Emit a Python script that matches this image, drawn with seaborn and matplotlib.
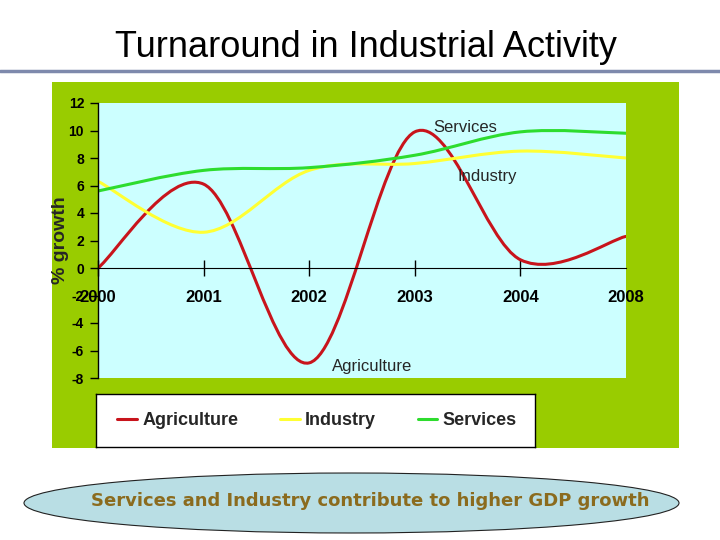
#!/usr/bin/env python3
"""Turnaround in Industrial Activity: sector growth, smoothed lines"""

import matplotlib
matplotlib.use('agg')
import matplotlib.pyplot as plt
from matplotlib.lines import Line2D
from matplotlib.patches import Rectangle, Ellipse, PathPatch
from matplotlib.path import Path

import seaborn as sns

years = ['2000', '2001', '2002', '2003', '2004', '2008']
agriculture = [0.0, 6.1, -6.9, 9.9, 0.6, 2.3]
industry = [6.3, 2.6, 7.1, 7.6, 8.5, 8.0]
services = [5.6, 7.1, 7.3, 8.2, 9.9, 9.8]
sectors = ['Agriculture', 'Industry', 'Services']
colors = {'Agriculture': '#C8141C', 'Industry': '#FFFF33', 'Services': '#2EDC2E'}
yticks = [12, 10, 8, 6, 4, 2, 0, -2, -4, -6, -8]

W, H = 720.0, 540.0


def _fig_box(x0, y0, x1, y1):
    """pixel box (top-left origin) -> figure fraction [l, b, w, h]"""
    return [x0 / W, 1 - y1 / H, (x1 - x0) / W, (y1 - y0) / H]


def _smooth_path(xs, ys):
    """Bezier path through the points, like an Excel smoothed line"""
    pts = list(zip(xs, ys))
    ext = [pts[0]] + pts + [pts[-1]]
    verts = [pts[0]]
    codes = [Path.MOVETO]
    for i in range(1, len(ext) - 2):
        p0, p1, p2, p3 = ext[i - 1], ext[i], ext[i + 1], ext[i + 2]
        c1 = (p1[0] + (p2[0] - p0[0]) / 6.0, p1[1] + (p2[1] - p0[1]) / 6.0)
        c2 = (p2[0] - (p3[0] - p1[0]) / 6.0, p2[1] - (p3[1] - p1[1]) / 6.0)
        verts += [c1, c2, p2]
        codes += [Path.CURVE4] * 3
    return Path(verts, codes)


def main():
    sns.set_style('white')
    plt.rcParams['font.family'] = ['Liberation Sans', 'DejaVu Sans']

    fig = plt.figure(figsize=(7.2, 5.4), dpi=100)
    fig.patch.set_facecolor('white')

    # title and the rule under it
    fig.text(366 / W, 1 - 57 / H, 'Turnaround in Industrial Activity',
             ha='center', va='baseline', fontsize=26, color='black')
    fig.lines.append(Line2D([0, 1], [1 - 71 / H] * 2, transform=fig.transFigure,
                            color='#7E89AC', lw=2.5))

    # green panel behind the chart
    l, b, w, h = _fig_box(52, 82, 679, 448)
    fig.patches.append(Rectangle((l, b), w, h, transform=fig.transFigure,
                                 facecolor='#99CC00', edgecolor='none', zorder=-5))

    ax = fig.add_axes(_fig_box(98, 103, 626, 378))
    ax.set_zorder(2)
    ax.set_facecolor('#CCFFFF')
    # move the x axis to y=0 first: set_position resets the ticks
    for side in ['top', 'right']:
        ax.spines[side].set_visible(False)
    ax.spines['bottom'].set_position(('data', 0))
    ax.spines['bottom'].set_color('black')
    ax.spines['left'].set_color('black')
    ax.spines['left'].set_linewidth(1)

    xpos = list(range(len(years)))
    for name, vals in zip(sectors, [agriculture, industry, services]):
        ax.add_patch(PathPatch(_smooth_path(xpos, vals), fill=False,
                               edgecolor=colors[name], lw=2.2, capstyle='round'))

    ax.set_xlim(0, len(years) - 1)
    ax.set_ylim(-8, 12)
    ax.set_yticks(yticks)
    ax.set_yticklabels([str(v) for v in yticks], fontsize=10, fontweight='bold')
    ax.set_xticks(xpos)
    ax.set_xticklabels(years, fontsize=12, fontweight='bold')

    ax.tick_params(axis='y', direction='out', length=6, width=1, pad=4,
                   colors='black', left=True)
    ax.tick_params(axis='x', direction='inout', length=12, width=1, pad=10,
                   colors='black', bottom=True)
    ax.xaxis.get_major_ticks()[-1].tick1line.set_visible(False)

    ax.set_ylabel('% growth', fontsize=14, fontweight='bold')
    ax.yaxis.set_label_coords(-0.055, 0.5)

    ax.text(3.475, 10.2, 'Services', ha='center', va='center', fontsize=12)
    ax.text(3.69, 6.67, 'Industry', ha='center', va='center', fontsize=12)
    ax.text(2.60, -7.17, 'Agriculture', ha='center', va='center', fontsize=12)

    # legend box
    lax = fig.add_axes(_fig_box(96, 394, 535, 447))
    lax.set_zorder(3)
    lax.set_facecolor('white')
    lax.set_xticks([])
    lax.set_yticks([])
    for sp in lax.spines.values():
        sp.set_visible(True)
        sp.set_color('black')
        sp.set_linewidth(1)
    handles = [Line2D([], [], color=colors[n], lw=2.2) for n in sectors]
    lax.legend(handles, sectors, loc='center left', bbox_to_anchor=(21 / 439, 0.5),
               frameon=False, ncol=3, handlelength=1.1, handletextpad=0.3,
               columnspacing=2.3, borderpad=0, borderaxespad=0,
               prop={'size': 13, 'weight': 'bold'})

    # bottom message
    l, b, w, h = _fig_box(24, 473, 679, 533)
    fig.patches.append(Ellipse((l + w / 2, b + h / 2), w, h, transform=fig.transFigure,
                               facecolor='#B9DEE4', edgecolor='#222222', lw=0.8))
    fig.text(370 / W, 1 - 501 / H, 'Services and Industry contribute to higher GDP growth',
             ha='center', va='center', fontsize=13, fontweight='bold',
             color='#8B6B1E', family='DejaVu Sans')

    fig.savefig('out.png', dpi=100)
    print('  WROTE: out.png')


if __name__ == '__main__':
    main()
